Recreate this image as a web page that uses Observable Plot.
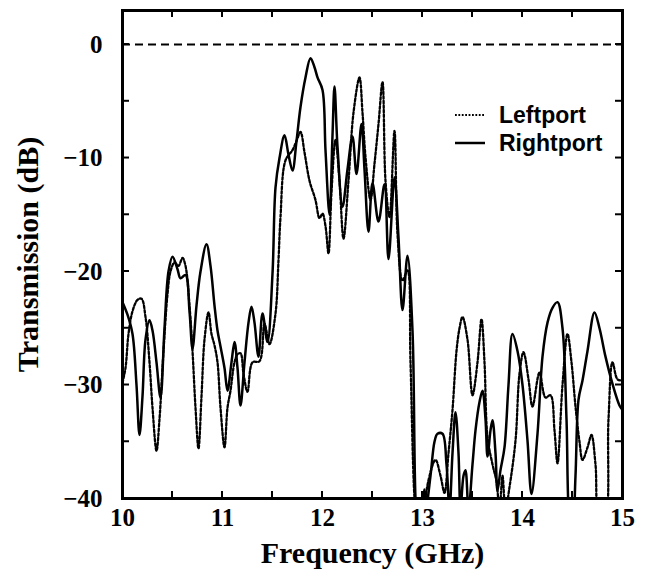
<!DOCTYPE html>
<html>
<head>
<meta charset="utf-8">
<script src="https://cdn.jsdelivr.net/npm/d3@7"></script>
<script src="https://cdn.jsdelivr.net/npm/@observablehq/plot@0.6"></script>
<style>
  html, body { margin: 0; padding: 0; background: #fff; }
  #chart { width: 648px; height: 576px; }
</style>
</head>
<body>
<div id="chart"></div>
<script>
// Rightport (solid) – frequency (GHz) and transmission (dB)
const freqRight = [10.00,10.05,10.10,10.14,10.17,10.20,10.23,10.27,10.30,10.34,10.38,10.42,10.46,10.50,10.55,10.58,10.63,10.67,10.70,10.74,10.78,10.84,10.88,10.92,10.95,10.98,11.02,11.05,11.09,11.12,11.15,11.18,11.22,11.26,11.29,11.32,11.36,11.40,11.45,11.50,11.53,11.57,11.62,11.66,11.70,11.74,11.78,11.83,11.88,11.92,11.95,12.00,12.03,12.07,12.10,12.12,12.15,12.20,12.25,12.30,12.34,12.39,12.42,12.46,12.50,12.56,12.62,12.66,12.72,12.76,12.80,12.85,12.90,12.93,12.96,13.00,13.02,13.04,13.08,13.12,13.15,13.20,13.24,13.27,13.30,13.33,13.36,13.38,13.41,13.43,13.46,13.50,13.53,13.57,13.60,13.63,13.65,13.68,13.70,13.73,13.75,13.78,13.82,13.86,13.90,13.95,14.00,14.05,14.09,14.15,14.20,14.25,14.30,14.35,14.40,14.44,14.47,14.50,14.53,14.56,14.60,14.65,14.72,14.77,14.83,14.90,14.97,15.00];
const transRight = [-22.7,-23.8,-25.5,-30,-34.4,-31,-26,-24.3,-25.2,-28,-31.1,-25,-20,-18.7,-19.8,-20.6,-20.3,-23.5,-26.8,-23,-20,-17.6,-19.5,-23,-25.2,-26.6,-28.5,-30.5,-28,-26.2,-28.5,-31.8,-28,-24.5,-23.1,-24.5,-27.5,-23.7,-26.2,-20.2,-12.6,-10,-8.0,-9.7,-11.1,-8.5,-5.5,-2.9,-1.2,-2.0,-2.9,-4.0,-9.3,-15.0,-8,-3.7,-9.0,-14.3,-11,-8.1,-11.4,-7.0,-11,-16.5,-12.2,-15.6,-12.3,-18.9,-11.7,-17,-23.4,-18.6,-25.2,-40,-44,-43,-39.2,-40.5,-38,-35,-34.3,-34.3,-37,-41,-36,-32.4,-36,-41,-38,-37.5,-41,-37,-34,-31.5,-30.5,-33,-36.3,-34,-33.1,-36,-39.3,-37.5,-35.5,-30,-25.5,-27,-30.0,-34.9,-39.6,-34.3,-27.5,-24.5,-23.2,-22.7,-25,-33,-42,-43,-38,-31.3,-29.6,-27,-23.6,-25,-27.5,-29.9,-31.8,-32.2];

// Leftport (dotted)
const freqLeft = [10.00,10.03,10.06,10.10,10.15,10.19,10.23,10.27,10.30,10.34,10.37,10.41,10.45,10.48,10.52,10.56,10.60,10.63,10.67,10.70,10.73,10.76,10.79,10.82,10.86,10.89,10.92,10.95,10.98,11.02,11.05,11.08,11.12,11.15,11.18,11.21,11.25,11.30,11.37,11.42,11.47,11.53,11.56,11.58,11.63,11.70,11.74,11.78,11.82,11.87,11.93,11.97,12.00,12.03,12.06,12.09,12.13,12.17,12.21,12.26,12.31,12.37,12.40,12.43,12.48,12.52,12.56,12.60,12.63,12.67,12.72,12.75,12.80,12.85,12.88,12.92,12.96,13.00,13.03,13.05,13.13,13.18,13.22,13.26,13.30,13.34,13.37,13.40,13.45,13.50,13.55,13.59,13.62,13.65,13.70,13.74,13.77,13.80,13.83,13.87,13.93,13.97,14.01,14.06,14.10,14.17,14.23,14.28,14.32,14.35,14.40,14.45,14.49,14.53,14.57,14.60,14.65,14.69,14.73,14.77,14.82,14.86,14.90,14.95,15.00];
const transLeft = [-29.8,-28.5,-25.5,-23.5,-22.5,-22.4,-24,-28,-32,-35.8,-33,-27,-22,-20,-19.2,-19.5,-18.8,-19.5,-23,-27,-32,-35.6,-31,-26,-23.6,-25.5,-26.5,-28,-32,-35.5,-32,-30.5,-28,-27.3,-27.2,-29,-30.6,-28.0,-27.9,-24.6,-26.4,-23.7,-19,-15.2,-10.2,-9.3,-8.5,-7.7,-9.5,-12.0,-13.7,-15.3,-14.9,-16,-18.4,-13,-8.4,-12,-17.1,-12,-6,-2.9,-6,-9.9,-13.7,-10.5,-7,-3.3,-12.0,-15.2,-7.6,-16.7,-20.8,-19.9,-28,-40,-44,-43,-40.5,-38.8,-36.6,-38,-39.5,-36,-32.2,-27,-25.0,-24.0,-26,-30.9,-28,-24.2,-28,-34.6,-37,-38.5,-41,-38,-41,-39,-34.9,-29,-27.1,-29.5,-31.9,-28.9,-31.1,-30.9,-34,-36.9,-30,-25.5,-28,-31.9,-35,-36.6,-35.5,-34.4,-37,-42,-42,-33,-28.0,-29.5,-29.6];

const xTickLabels = [10, 11, 12, 13, 14, 15];
const yTickLabels = [-40, -30, -20, -10, 0];
const xTicksAll = [10, 10.5, 11, 11.5, 12, 12.5, 13, 13.5, 14, 14.5, 15];
const yTicksAll = [-40, -35, -30, -25, -20, -15, -10, -5, 0];
const seriesNames = ["Leftport", "Rightport"];
const xLabel = "Frequency (GHz)";
const yLabel = "Transmission (dB)";

const right = freqRight.map((f, i) => ({f, t: transRight[i]}));
const left = freqLeft.map((f, i) => ({f, t: transLeft[i]}));

const DOT = "2.6,2";
const TICK = 7;

// inward ticks on all four sides, placed through the plot's own scales
function innerTicks(index, scales, values, dims) {
  const g = d3.create("svg:g").attr("stroke", "#000").attr("stroke-width", 2);
  const top = dims.marginTop, bottom = dims.height - dims.marginBottom;
  const l = dims.marginLeft, r = dims.width - dims.marginRight;
  for (const v of xTicksAll) {
    const px = scales.x(v);
    g.append("line").attr("x1", px).attr("x2", px).attr("y1", bottom).attr("y2", bottom - TICK);
    g.append("line").attr("x1", px).attr("x2", px).attr("y1", top).attr("y2", top + TICK);
  }
  for (const v of yTicksAll) {
    const py = scales.y(v);
    g.append("line").attr("y1", py).attr("y2", py).attr("x1", l).attr("x2", l + TICK);
    g.append("line").attr("y1", py).attr("y2", py).attr("x1", r).attr("x2", r - TICK);
  }
  return g.node();
}

function legend(index, scales, values, dims) {
  const g = d3.create("svg:g");
  const xr = dims.width - dims.marginRight;
  const x0 = xr - 167, x1 = xr - 137, tx = xr - 123;
  const rows = [{name: seriesNames[0], dash: "1.8,1.6", y: 115}, {name: seriesNames[1], dash: null, y: 143}];
  for (const r of rows) {
    g.append("line").attr("x1", x0).attr("x2", x1).attr("y1", r.y).attr("y2", r.y)
      .attr("stroke", "#000").attr("stroke-width", r.dash ? 2.2 : 2.5)
      .attr("stroke-dasharray", r.dash);
    g.append("text").attr("x", tx).attr("y", r.y + 8).text(r.name)
      .style("font-family", "'Liberation Sans', Arial, sans-serif")
      .style("font-weight", "bold").style("font-size", "23px")
      .style("text-anchor", "start").attr("fill", "#000");
  }
  return g.node();
}

const fmt = d => (d < 0 ? "\u2212" + (-d) : String(d));

const chart = Plot.plot({
  width: 648,
  height: 576,
  marginLeft: 122,
  marginRight: 26,
  marginTop: 10,
  marginBottom: 78,
  style: {fontFamily: "'Liberation Serif', 'Times New Roman', serif", fontWeight: "bold", color: "#000", background: "#fff"},
  x: {domain: [10, 15]},
  y: {domain: [-40, 3]},
  marks: [
    Plot.ruleY([0], {stroke: "#000", strokeWidth: 2, strokeDasharray: "8,5"}),
    Plot.line(left, {x: "f", y: "t", curve: "catmull-rom", stroke: "#000", strokeWidth: 2.3, strokeDasharray: DOT, clip: true}),
    Plot.line(right, {x: "f", y: "t", curve: "catmull-rom", stroke: "#000", strokeWidth: 2.5, clip: true}),
    Plot.frame({stroke: "#000", strokeWidth: 3}),
    innerTicks,
    Plot.axisX({ticks: xTickLabels, tickSize: 0, tickPadding: 10, fontSize: 25, fontWeight: "bold", tickFormat: fmt,
      label: xLabel, labelAnchor: "center", labelArrow: "none", labelOffset: 64}),
    Plot.axisY({ticks: yTickLabels, tickSize: 0, tickPadding: 20, fontSize: 25, fontWeight: "bold", tickFormat: fmt,
      label: yLabel, labelAnchor: "center", labelArrow: "none", labelOffset: 106}),
    legend
  ]
});

document.getElementById("chart").appendChild(chart);
// make the Leftport path (first line mark) dotted, directly on the path
const lineGroups = d3.select(chart).selectAll('g[aria-label="line"]').nodes();
if (lineGroups.length) {
  d3.select(lineGroups[0]).selectAll("path").style("stroke-dasharray", DOT);
}
// axis titles larger than tick labels
d3.select(chart).selectAll('g[aria-label="x-axis label"] text, g[aria-label="y-axis label"] text')
  .style("font-size", "30px");
</script>
</body>
</html>
